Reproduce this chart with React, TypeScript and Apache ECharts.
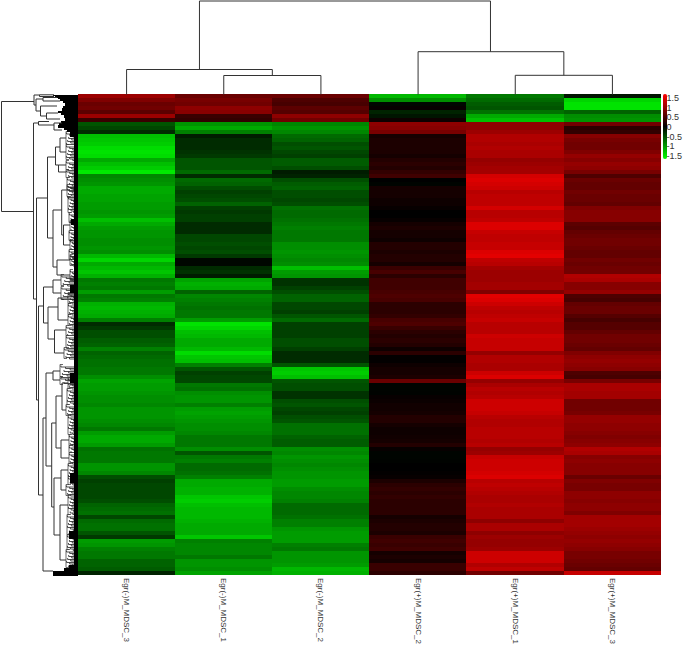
import React, { useEffect, useRef } from "react";
import * as echarts from "echarts";

const sampleNames = ["Egr(-)M_MDSC_3", "Egr(-)M_MDSC_1", "Egr(-)M_MDSC_2", "Egr(+)M_MDSC_2", "Egr(+)M_MDSC_1", "Egr(+)M_MDSC_3"];
const legendTicks = [1.5, 1, 0.5, 0, -0.5, -1, -1.5];

const negThree = [
  1.1, .9, .75, .8, .65, 1.1, .4, -.6, -.5, -.3,
  -1.35, -1.4, -1.45, -1.55, -1.6, -1.55, -1.2, -1.35, -1.45, -1.65,
  -.95, -1, -1.05, -1.2, -1.2, -1.15, -1.15, -1.1, -1.1, -1.05,
  -1.1, -1.35, -1.2, -1.1, -1.05, -1.05, -1, -1, -1.05, -1,
  -1.3, -1.5, -1.2, -1.3, -1.4, -1.25, -.85, -.9, -.85, -1.1,
  -.85, -.9, -1.25, -1.3, -1.25, -1.2, -.9, -.3, -.4, -.55,
  -.55, -.65, -.7, -.9, -.7, -.75, -.8, -.8, -.85, -.85,
  -1, -1.15, -1.1, -1.1, -1.05, -1, -1, -.95, -1.05, -1.05,
  -1.05, -1, -.95, -.85, -1.1, -1.2, -1.2, -1.1, -.8, -.85,
  -.85, -.85, -1.05, -1.05, -.95, -.55, -.45, -.5, -.5, -.5,
  -.5, -.55, -.7, -.75, -.8, -.5, -.75, -.8, -.8, -.6,
  -.4, -1.1, -1.05, -.9, -.85, -.85, -.7, -.7, -.65, -.25,
];
const negOne = [
  .75, .85, .8, 1, .95, .4, .35, -1.05, -1.2, -.9,
  -.2, -.3, -.3, -.3, -.35, -.4, -.6, -.6, -.6, -.75,
  -.3, -.75, -.7, -.55, -.45, -.5, -.55, -.7, -.45, -.4,
  -.45, -.45, -.3, -.3, -.3, -.5, -.5, -.55, -.5, -.55,
  -.4, -.05, -.05, -.3, -.35, -.2, -1.15, -1.25, -1.2, -.7,
  -.95, -.9, -.85, -.8, -.85, -.85, -1.1, -1.6, -1.5, -1.35,
  -1.3, -1.2, -1.2, -1.3, -1.55, -1.4, -1.35, -.9, -.6, -.45,
  -.5, -.5, -.85, -.8, -1, -1.05, -1.05, -.9, -1.1, -1.15,
  -1.1, -1.05, -1, -1, -.95, -.85, -.85, -.85, -1, -.6,
  -.85, -.9, -.75, -.75, -.8, -.9, -1.2, -1.2, -1.25, -1.25,
  -1.4, -1.45, -1.35, -1.3, -1.3, -1.3, -1.25, -1.2, -1.2, -1.2,
  -1.4, -.9, -.95, -.95, -.95, -.85, -1.05, -1.05, -1, -1.15,
];
const negTwo = [
  .75, .55, .5, .65, .6, 1, .8, -.95, -1.05, -.95,
  -.75, -.7, -.55, -.6, -.5, -.45, -.65, -.65, -.55, -.2,
  -.25, -.55, -.65, -.7, -.55, -.55, -.5, -.55, -.8, -.75,
  -.75, -.8, -.85, -.9, -.85, -.85, -.85, -1, -1, -1.05,
  -1, -.95, -1, -1.35, -1.1, -1.05, -.35, -.35, -.45, -.55,
  -.7, -.7, -.5, -.5, -.45, -.6, -.75, -.45, -.45, -.45,
  -.45, -.55, -.55, -.45, -.3, -.3, -.3, -.6, -1.4, -1.45,
  -1.35, -.6, -.55, -.55, -.35, -.35, -.55, -.6, -.5, -.45,
  -.55, -.6, -.8, -.8, -.8, -.7, -.65, -.65, -1, -.95,
  -1.05, -1, -.95, -1, -1.05, -1.05, -1.1, -1.1, -1, -.95,
  -.95, -.9, -.75, -.75, -.75, -.8, -.9, -.9, -1.05, -1.1,
  -1.1, -1.1, -.9, -.85, -1.05, -1.05, -1.05, -1.1, -1.3, -1.25,
];
const posTwo = [
  -1.3, -1, -.05, .05, -.25, -.15, .1, 1, .95, .85,
  .15, .2, .2, .2, .2, .15, .25, .3, .25, .35,
  .45, 0, -.03, .15, .15, .15, .1, .1, .05, 0,
  0, .05, .15, .2, .15, .15, .1, .25, .25, .2,
  .25, .25, .15, .4, .5, .3, .45, .45, .45, .5,
  .55, .5, .3, .3, .3, .35, .5, .55, .4, .3,
  .25, .3, .25, .1, .3, .02, .02, .1, .15, .15,
  .2, .75, -.03, -.03, -.02, .05, .08, .12, .12, .15,
  .25, .25, .15, .1, .1, .12, .15, .25, .05, -.03,
  -.03, -.02, 0, 0, .02, .05, .2, .3, .35, .3,
  .35, .3, .3, .3, .3, .15, .2, .25, .25, .2,
  .4, .45, .4, .45, .15, .2, .15, .4, .4, .3,
];
const posOne = [
  -.85, -.75, -.65, -.6, -.8, -1.2, -1.35, 1, 1, 1.1,
  1.25, 1.25, 1.2, 1.25, 1.2, 1.2, 1.05, 1.1, 1.15, 1.15,
  1.5, 1.55, 1.5, 1.45, 1.3, 1.35, 1.35, 1.35, 1.5, 1.3,
  1.3, 1.35, 1.55, 1.55, 1.4, 1.35, 1.35, 1.4, 1.4, 1.55,
  1.6, 1.35, 1.3, 1.15, 1.1, 1.1, 1.1, 1.15, 1.15, .9,
  1.6, 1.55, 1.45, 1.35, 1.3, 1.35, 1.4, 1.3, 1.3, 1.3,
  1.45, 1.4, 1.4, 1.4, 1.05, 1.25, 1.25, 1.2, 1.2, 1.45,
  1.55, 1.05, 1.2, 1.3, 1.25, 1.3, 1.45, 1.45, 1.45, 1.4,
  1.3, 1.25, 1.25, 1.3, 1.3, 1.3, 1.25, 1.3, 1.05, 1.1,
  1.4, 1.45, 1.45, 1.45, 1.5, 1.55, 1.3, 1.35, 1.3, 1.25,
  1.2, 1.2, 1.25, 1.2, 1.2, 1.2, 1, 1.2, 1.2, 1,
  1.1, 1.05, 1.05, 1.1, 1.45, 1.45, 1.45, 1.25, 1.35, .8,
];
const posThree = [
  -.15, -1.5, -1.6, -1.6, -.7, -1, -1.05, .8, .3, .35,
  .95, .85, .8, .8, .9, 1.05, .95, 1.05, 1, .85,
  .55, .75, .7, .7, .8, .75, .75, .7, .9, .95,
  .95, .95, .65, .6, .7, .75, .8, .8, .75, .7,
  .7, .8, .75, .8, .8, 1.25, 1.2, .95, .95, 1.05,
  .55, .5, .7, .75, .75, .6, .5, .6, .6, .7,
  .8, .8, .75, .7, .9, 1, 1.05, 1, .95, .55,
  .5, .85, 1.2, 1.2, 1.15, 1.15, .8, .8, .8, .85,
  1.05, 1.05, 1, 1, .95, .9, .95, 1, 1.25, 1.2,
  .95, 1, .95, .95, .95, .75, .9, .85, .85, 1,
  1, .95, 1, 1, .9, 1.15, 1.15, 1.15, 1.1, 1.05,
  1, 1.05, 1, .95, .85, .85, .8, .75, .7, 1.4,
];
const sampleColumns = [negThree, negOne, negTwo, posTwo, posOne, posThree];

// [left col, right col, merge height, left child height, right child height]
const sampleLinks = [
  [1.25, 4.245, 93.5, 25, 42.8],
  [0.5, 2, 25, 0, 19],
  [1.5, 2.5, 19, 0, 0],
  [3.5, 5, 42.8, 0, 19.2],
  [4.5, 5.5, 19.2, 0, 0],
];

// [top leaf, bottom leaf, merge height, top child height, bottom child height]
const geneLinks = [
  [7, 117, 76.5, 44, 44.5], [0.5, 10.5, 44, 38.5, 42], [0.3, 2, 38.5, 24, 24], [4.5, 16.5, 42, 35, 37.5],
  [3, 6.5, 35, 21, 18], [11.5, 21.5, 37.5, 21, 31.5], [18.5, 24.5, 31.5, 20, 18], [28.5, 204.5, 44.5, 39.5, 41.5],
  [27, 30.5, 39.5, 29, 24], [28.5, 35.5, 24, 16, 16], [103.5, 305.5, 41.5, 30.5, 39.5], [62.5, 143.5, 30.5, 22.5, 25],
  [52.5, 70.5, 22.5, 18, 19.5], [43.5, 57.5, 18, 12, 12], [70.5, 77.5, 19.5, 12, 12], [115.5, 172.5, 25, 16.3, 21],
  [95.5, 140.5, 16.3, 11, 14.5], [130.5, 150.5, 14.5, 8, 8], [165.5, 180.5, 21, 8, 8], [192.5, 228.5, 34.5, 25, 30],
  [185.5, 198.5, 25, 17, 17], [211.5, 400.5, 39.5, 34.5, 35], [212.5, 244.5, 30, 20, 23.5], [203.5, 225.5, 20, 10, 10],
  [235.5, 258.5, 23.5, 12, 14], [323.5, 476.5, 35, 32, 25], [278.5, 371.5, 32, 25, 26.3], [276.5, 285.5, 25, 18, 18],
  [328.5, 412.5, 26.3, 22, 24], [301.5, 353.5, 22, 16, 17], [288.5, 315.5, 16, 10, 12], [345.5, 363.5, 17, 9, 9],
  [383.5, 440.5, 24, 17, 18], [375.5, 395.5, 17, 10, 12], [410.5, 465.5, 18, 10, 12],
];

// [top leaf, bottom leaf, height]: small sub-trees at the leaf end
const geneTufts = [
  [37, 50, 12], [50, 65, 12], [66, 75, 12], [75, 83, 12], [83, 95, 11], [90, 102, 11], [102, 118, 10], [118, 128, 9],
  [126, 136, 8], [136, 146, 9], [145, 155, 8], [155, 165, 9], [160, 171, 8], [175, 186, 8], [180, 191, 17], [192, 205, 17],
  [198, 209, 10], [209, 220, 10], [220, 231, 10], [231, 241, 12], [241, 253, 12], [253, 264, 14], [270, 282, 18], [282, 290, 18],
  [283, 294, 10], [294, 310, 11], [310, 321, 12], [321, 340, 10], [340, 351, 9], [351, 358, 9], [358, 369, 9], [369, 382, 10],
  [382, 390, 10], [390, 401, 12], [401, 420, 10], [420, 440, 11], [440, 455, 11], [455, 473, 12],
];

// [top leaf, bottom leaf, height]: parts where the leaf lines merge to solid black
const geneSolid = [
  [0, 481.5, 4.5], [0, 1.5, 25], [1.5, 3, 23], [3, 4.5, 20], [4.5, 6, 18], [6, 8, 15], [8, 11, 13], [11, 13, 15], [13, 16, 16], [16, 18, 20], [18, 20, 17],
  [20, 23, 14], [23, 26, 13], [26, 28, 17], [28, 30, 19], [30, 33, 20], [33, 35, 14], [35, 37, 11], [37, 42, 8],
  [124, 130, 7], [190, 198, 8], [278, 288, 8], [378, 388, 8], [436, 444, 9], [470, 473, 9], [473, 476, 14], [476, 481.5, 25],
];

const heatCells: number[][] = [];
sampleColumns.forEach((col, c) => col.forEach((v, r) => heatCells.push([c, r, v])));
const rowNames = negThree.map((_, r) => String(r));
const LINE = "#333";

function sampleLink(_: any, api: any) {
  const pt = (x: number, h: number) => api.coord([x, h]);
  const [a, b, h, ha, hb] = [0, 1, 2, 3, 4].map((i) => api.value(i));
  return {
    type: "polyline",
    shape: { points: [pt(a, ha), pt(a, h), pt(b, h), pt(b, hb)] },
    style: { stroke: LINE, fill: "none", lineWidth: 1 },
  };
}
function geneLink(_: any, api: any) {
  const [a, b, h, ha, hb] = [0, 1, 2, 3, 4].map((i) => api.value(i));
  const pt = (hh: number, y: number) => api.coord([hh, y]);
  return {
    type: "polyline",
    shape: { points: [pt(ha, a), pt(h, a), pt(h, b), pt(hb, b)] },
    style: { stroke: LINE, fill: "none", lineWidth: 1 },
  };
}
function geneTuft(_: any, api: any) {
  const [a, b, h] = [0, 1, 2].map((i) => api.value(i));
  const pt = (hh: number, y: number) => api.coord([hh, y]);
  const children: any[] = [
    { type: "polyline", shape: { points: [pt(Math.max(h - 3, 4), a), pt(h, a), pt(h, b), pt(Math.max(h - 3, 4), b)] }, style: { stroke: "#444", fill: "none", lineWidth: 0.8 } },
  ];
  let j = 0;
  for (let y = a + 1; y < b; y += 1.5) {
    const start = Math.max(4, h * (0.35 + 0.6 * (1 - ((j * 3) % 7) / 7)));
    children.push({
      type: "polyline",
      shape: { points: [pt(start, y), pt(start, y + 1.5), pt(3, y + 1.5)] },
      style: { stroke: "#222", fill: "none", lineWidth: 0.8 },
    });
    j++;
  }
  return { type: "group", children };
}
function geneBlock(_: any, api: any) {
  const [a, b, h] = [0, 1, 2].map((i) => api.value(i));
  const p0 = api.coord([h, a]);
  const p1 = api.coord([0, b]);
  return { type: "rect", shape: { x: p0[0], y: p0[1], width: p1[0] - p0[0], height: p1[1] - p0[1] }, style: { fill: "#000" } };
}

export default function App() {
  const ref = useRef<HTMLDivElement>(null);
  useEffect(() => {
    const chart = echarts.init(ref.current!, undefined, { renderer: "svg" });
    const hidden = { show: false };
    chart.setOption({
      animation: false,
      backgroundColor: "#fff",
      grid: [
        { left: 78, top: 94.5, width: 583, height: 481.5 },
        { left: 78, top: 0, width: 583, height: 94.5 },
        { left: 0, top: 94.5, width: 78, height: 481.5 },
        { left: 663, top: 94.5, width: 4, height: 65 },
      ],
      xAxis: [
        {
          type: "category", gridIndex: 0, data: sampleNames, axisLine: hidden, axisTick: hidden, splitLine: hidden,
          axisLabel: { rotate: -90, fontSize: 8, margin: 3, color: "#333", fontFamily: "Liberation Sans, Arial, sans-serif", interval: 0 },
        },
        { type: "value", gridIndex: 1, min: 0, max: 6, show: false },
        { type: "value", gridIndex: 2, min: 0, max: 78, inverse: true, show: false },
        { type: "value", gridIndex: 3, min: 0, max: 1, show: false },
      ],
      yAxis: [
        { type: "category", gridIndex: 0, data: rowNames, inverse: true, show: false },
        { type: "value", gridIndex: 1, min: 0, max: 94.5, show: false },
        { type: "value", gridIndex: 2, min: 0, max: 481.5, inverse: true, show: false },
        {
          type: "value", gridIndex: 3, min: -1.7, max: 1.7, position: "right", axisLine: hidden, axisTick: hidden, splitLine: hidden,
          axisLabel: { customValues: legendTicks, fontSize: 9, margin: 2, color: "#333", fontFamily: "Liberation Sans, Arial, sans-serif" },
        },
      ],
      visualMap: {
        type: "continuous", seriesIndex: 0, min: -1.8, max: 1.8, left: 663, top: 94, itemWidth: 4, itemHeight: 65,
        padding: 0, calculable: false, text: ["", ""], showLabel: false, hoverLink: false,
        inRange: { color: ["#00ff00", "#000000", "#ff0000"] },
      },
      series: [
        { type: "heatmap", xAxisIndex: 0, yAxisIndex: 0, data: heatCells, silent: true, progressive: 0, itemStyle: { borderWidth: 0 } },
        { type: "custom", xAxisIndex: 1, yAxisIndex: 1, data: sampleLinks, renderItem: sampleLink, silent: true, clip: false },
        { type: "custom", xAxisIndex: 2, yAxisIndex: 2, data: geneTufts, renderItem: geneTuft, silent: true, clip: false },
        { type: "custom", xAxisIndex: 2, yAxisIndex: 2, data: geneSolid, renderItem: geneBlock, silent: true, clip: false },
        { type: "custom", xAxisIndex: 2, yAxisIndex: 2, data: geneLinks, renderItem: geneLink, silent: true, clip: false },
      ],
    });
    return () => chart.dispose();
  }, []);
  return (
    <>
      <style>{`svg path[fill]:not([fill="none"]){shape-rendering:crispEdges}`}</style>
      <div ref={ref} style={{ position: "fixed", left: 0, top: 0, width: 685, height: 647 }} />
    </>
  );
}
